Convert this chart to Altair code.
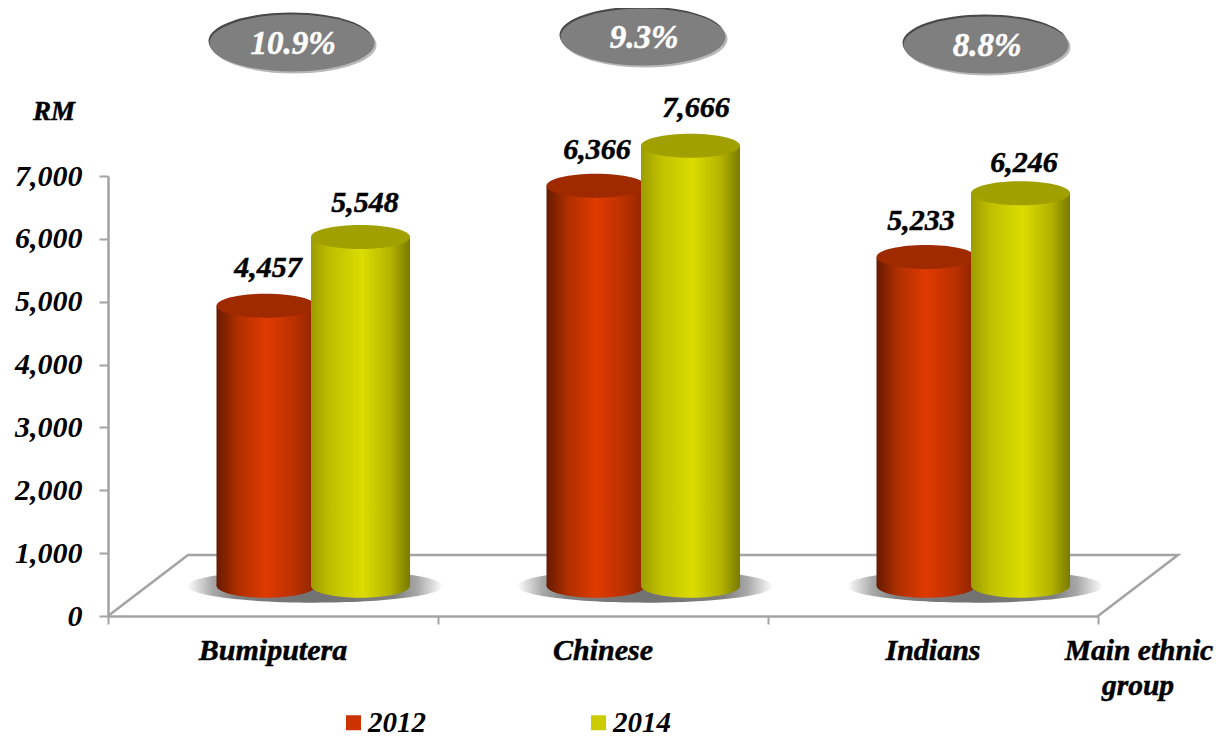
import altair as alt
import pandas as pd

# ---- values ----
groups = ["Bumiputera", "Chinese", "Indians"]
income_2012 = [4457, 6366, 5233]
income_2014 = [5548, 7666, 6246]
growth = ["10.9%", "9.3%", "8.8%"]
years = ["2012", "2014"]
y_ticks = [0, 1000, 2000, 3000, 4000, 5000, 6000, 7000]

FONT = "Liberation Serif"
GREY = "#a3a3a3"

# chart geometry (page pixels): the axis frame
X0, X3, Y0, Y7 = 108, 1098, 616, 176
UX = (X3 - X0) / 3
UY = (Y0 - Y7) / 7000
def ux(px): return (px - X0) / UX
def uy(px): return (Y0 - px) / UY

DEPTH = 480      # the 3-D floor lifts every column
CAP = 7000       # the original's columns stop at the top of the axis
BAR_W = 99

xs = alt.Scale(domain=[0, 3], nice=False, zero=False)
ys = alt.Scale(domain=[0, 7000], nice=False, zero=False)
X = alt.X("x:Q", scale=xs, axis=None)
Y = alt.Y("y:Q", scale=ys, axis=None)

def grad(stops):
    return {"gradient": "linear", "x1": 0, "x2": 1, "y1": 0, "y2": 0,
            "stops": [{"offset": o, "color": c} for o, c in stops]}

RED = grad([(0, "#661a00"), (0.22, "#b03000"), (0.5, "#e03a00"), (0.8, "#b83000"), (1, "#8a2400")])
YEL = grad([(0, "#9c9c00"), (0.2, "#c0c000"), (0.52, "#dcdc00"), (0.8, "#b4b400"), (1, "#7a7a00")])

ELL = "M-1,0A1,{r} 0 1 0 1,0A1,{r} 0 1 0 -1,0Z"
ell_bar = ELL.format(r=0.2424)

def series_frame(values, px_left):
    rows = []
    for i, (g, v) in enumerate(zip(groups, values)):
        left = px_left + UX * i
        rows.append({"group": g, "value": v, "top": min(v, CAP) + DEPTH, "base": DEPTH,
                     "x": ux(left + BAR_W / 2), "xa": ux(left), "xb": ux(left + BAR_W)})
    return pd.DataFrame(rows)

d12 = series_frame(income_2012, 216.5)
d14 = series_frame(income_2014, 311)

def column(df, fill, top):
    base = alt.Chart(df)
    bottom_e = base.mark_point(shape=ell_bar, filled=True, fill=fill, opacity=1, strokeWidth=0, size=BAR_W**2).encode(
        x=X, y=alt.Y("base:Q", scale=ys, axis=None))
    body = base.mark_bar(fill=fill, opacity=1).encode(
        x=alt.X("xa:Q", scale=xs, axis=None), x2="xb:Q",
        y=alt.Y("top:Q", scale=ys, axis=None), y2="base:Q")
    top_e = base.mark_point(shape=ell_bar, filled=True, fill=top, opacity=1, strokeWidth=0, size=BAR_W**2).encode(
        x=X, y=alt.Y("top:Q", scale=ys, axis=None))
    return [bottom_e, body, top_e]

# axes
axes = alt.Chart(pd.DataFrame({"x": [0.0], "y": [0.0]})).mark_point(opacity=0).encode(
    x=alt.X("x:Q", scale=xs, axis=alt.Axis(values=[0, 1, 2, 3], labels=False, title=None, grid=False,
                                           domainColor=GREY, domainWidth=2.5, tickColor=GREY, tickWidth=2, tickSize=8)),
    y=alt.Y("y:Q", scale=ys, axis=alt.Axis(values=y_ticks, format=",.0f", title=None, grid=False,
                                           domainColor=GREY, domainWidth=2.5, tickColor=GREY, tickWidth=2, tickSize=9,
                                           labelFont=FONT, labelFontSize=30, labelFontWeight="bold",
                                           labelFontStyle="italic", labelColor="black", labelPadding=17)),
)

# floor
floor_df = pd.DataFrame({"x": [0, ux(188), ux(1178), 1.0 * 3], "y": [0, uy(555), uy(555), 0], "o": [0, 1, 2, 3]})
floor = alt.Chart(floor_df).mark_line(color=GREY, strokeWidth=2.5, opacity=1).encode(x=X, y=Y, order="o:Q")

# soft shadow under each pair of columns
sh_df = pd.DataFrame({"x": [ux(315 + UX * i) for i in range(3)], "y": [uy(586)] * 3})
sh_fill = {"gradient": "radial", "x1": 0.5, "y1": 0.5, "x2": 0.5, "y2": 0.5, "r1": 0, "r2": 0.5,
           "stops": [{"offset": 0, "color": "#707070"}, {"offset": 0.62, "color": "#808080"},
                     {"offset": 0.8, "color": "#a8a8a8"}, {"offset": 1, "color": "#ffffff"}]}
shadow = alt.Chart(sh_df).mark_point(shape=ELL.format(r=0.13), filled=True, fill=sh_fill, opacity=1,
                                     strokeWidth=0, size=256**2).encode(x=X, y=Y)

# legend carrier: tiny squares hidden behind the columns
lg_df = pd.DataFrame({"x": [ux(265), ux(360)], "y": [uy(450), uy(450)], "year": years})
legend_layer = alt.Chart(lg_df).mark_square(size=1, opacity=1).encode(
    x=X, y=Y,
    color=alt.Color("year:N", scale=alt.Scale(domain=years, range=["#cc3300", "#cccc00"]),
                    legend=alt.Legend(title=None, orient="none", legendX=231, legendY=532, direction="horizontal",
                                      symbolType="square", symbolSize=225, symbolOpacity=1,
                                      labelFont=FONT, labelFontSize=29, labelFontWeight="bold", labelFontStyle="italic",
                                      labelColor="black", columns=2, columnPadding=158, labelOffset=0, labelLimit=200)))

# value labels
lab_df = pd.DataFrame({
    "x": [ux(p) for p in [268, 597, 921, 365, 696, 1024]],
    "y": [uy(p) for p in [268, 150, 221, 203, 108, 163]],
    "t": [f"{v:,}" for v in income_2012 + income_2014]})
def text(df, size=30, color="black", **kw):
    return alt.Chart(df).mark_text(font=FONT, fontSize=size, fontWeight="bold", fontStyle="italic", color=color,
                                   stroke=color, strokeWidth=0.5,
                                   baseline="middle", align="center", **kw).encode(x=X, y=Y, text="t:N")
labels = text(lab_df)

# category labels + axis captions
cat_df = pd.DataFrame({
    "x": [0.5, 1.5, 2.5, ux(1139), ux(1138), ux(54)],
    "y": [uy(651)] * 4 + [uy(686), uy(112)],
    "t": groups + ["Main ethnic", "group", "RM"]})
cats = text(cat_df[:3], size=30)
main = text(cat_df[3:5], size=29.5)
rm = text(cat_df[5:], size=27)

# growth ovals
ov_x = [292, 643, 986]
ov_y = [43, 37, 45]
ell_ov = ELL.format(r=0.345)
def oval(dx, dy, color):
    df = pd.DataFrame({"x": [ux(p + dx) for p in ov_x], "y": [uy(p + dy) for p in ov_y]})
    return alt.Chart(df).mark_point(shape=ell_ov, filled=True, fill=color, opacity=1, strokeWidth=0,
                                    size=165**2).encode(x=X, y=Y)
ov_txt = pd.DataFrame({"x": [ux(p + 1) for p in ov_x], "y": [uy(p + 1) for p in ov_y], "t": growth})

layers = [axes, floor, shadow, legend_layer]
layers += column(d12, RED, "#a02a00")
layers += column(d14, YEL, "#a0a000")
layers += [labels, cats, main, rm,
           oval(-1, -2, "#484848"), oval(2, 2, "#b8b8b8"), oval(0, 0, "#7f7f7f"),
           text(ov_txt, size=33, color="white")]

chart = alt.layer(*layers).resolve_scale(x="shared", y="shared").resolve_axis(x="independent", y="independent").properties(
    width=X3 - X0, height=Y0 - Y7,
    padding={"left": X0 - 8, "top": Y7 - 8, "right": 1227 - 8 - X3, "bottom": 738 - Y0},
    autosize=alt.AutoSizeParams(type="none"),
    background="white",
).configure_view(stroke=None)

chart.save("out.html", embed_options={"renderer": "svg", "actions": False})
